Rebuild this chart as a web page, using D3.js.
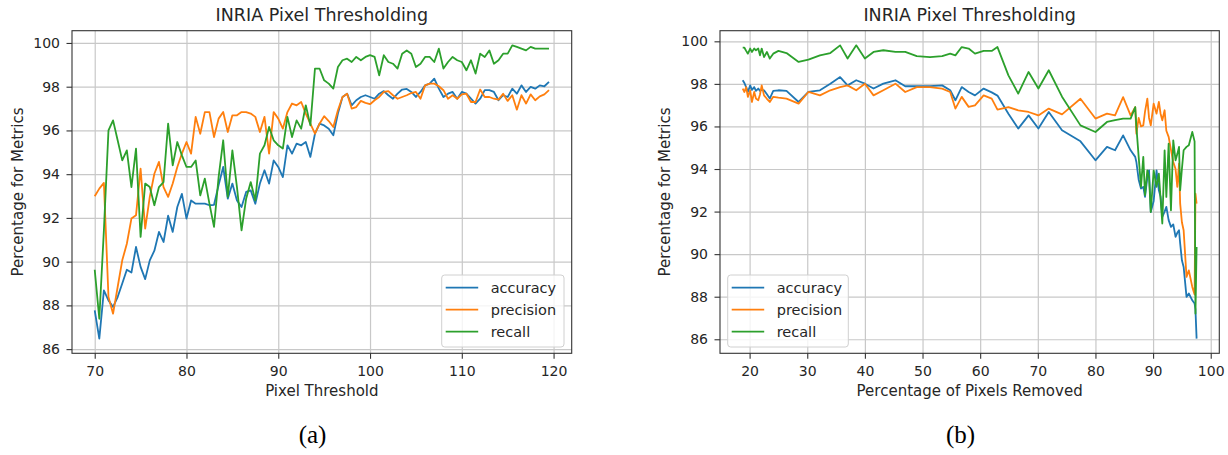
<!DOCTYPE html>
<html>
<head>
<meta charset="utf-8">
<script src="https://cdn.jsdelivr.net/npm/d3@7"></script>
<style>
  body { margin: 0; background: #fff; }
  svg { display: block; }
  text { font-family: "DejaVu Sans", sans-serif; fill: #262626; }
</style>
</head>
<body>
<div id="chart"></div>
<script>
// panel (a): metrics against pixel threshold
var thresholds = [
    70, 70.5, 71, 71.5, 72, 72.5, 73, 73.5, 74, 74.5,
    75, 75.5, 76, 76.5, 77, 77.5, 78, 78.5, 79, 79.5,
    80, 80.5, 81, 81.5, 82, 82.5, 83, 83.5, 84, 84.5,
    85, 85.5, 86, 86.5, 87, 87.5, 88, 88.5, 89, 89.5,
    90, 90.5, 91, 91.5, 92, 92.5, 93, 93.5, 94, 94.5,
    95, 95.5, 96, 96.5, 97, 97.5, 98, 98.5, 99, 99.5,
    100, 100.5, 101, 101.5, 102, 102.5, 103, 103.5, 104, 104.5,
    105, 105.5, 106, 106.5, 107, 107.5, 108, 108.5, 109, 109.5,
    110, 110.5, 111, 111.5, 112, 112.5, 113, 113.5, 114, 114.5,
    115, 115.5, 116, 116.5, 117, 117.5, 118, 118.5, 119, 119.5];

var accuracyA = [
    87.77, 86.48, 88.69, 88.23, 87.93, 88.38, 89.0, 89.63, 89.5, 90.67,
    89.76, 89.2, 90.06, 90.5, 91.36, 90.9, 92.1, 91.36, 92.5, 93.1,
    91.97, 92.8, 92.65, 92.65, 92.65, 92.58, 92.6, 93.5, 94.33, 92.88,
    93.57, 92.8, 92.5, 93.19, 93.26, 92.65, 93.57, 94.18, 93.57, 94.63,
    94.33, 93.87, 95.32, 94.94, 95.4, 95.32, 95.47, 94.79, 95.85, 96.31,
    96.23, 96.08, 95.78, 96.77, 97.53, 97.68, 97.15, 97.38, 97.53, 97.61,
    97.53, 97.45, 97.68, 97.8, 97.61, 97.45, 97.68, 97.87, 97.9, 97.76,
    97.53, 97.76, 98.06, 98.14, 98.37, 97.91, 97.53, 97.68, 97.76, 97.45,
    97.76, 97.68, 97.45, 97.23, 97.45, 97.84, 97.84, 97.76, 97.38, 97.61,
    97.53, 97.91, 97.68, 98.06, 97.76, 97.99, 97.91, 98.06, 98.02, 98.22];

var precisionA = [
    92.99, 93.34, 93.6, 88.38, 87.62, 88.84, 90.06, 90.82, 91.97, 92.12,
    94.25, 91.51, 92.96, 94.02, 94.56, 93.41, 92.96, 93.57, 94.33, 94.94,
    95.47, 94.94, 96.62, 95.85, 96.84, 96.84, 95.7, 96.54, 96.84, 95.93,
    96.69, 96.69, 96.84, 96.84, 96.77, 96.62, 95.93, 96.62, 94.94, 96.84,
    96.54, 96.08, 96.84, 97.23, 97.15, 97.3, 96.77, 96.31, 95.85, 96.31,
    96.65, 96.43, 96.16, 96.92, 97.53, 97.68, 97.0, 97.07, 97.35, 97.26,
    97.2, 97.38, 97.53, 97.76, 97.8, 97.61, 97.45, 97.53, 97.61, 97.71,
    97.76, 97.45, 98.06, 98.14, 98.14, 98.02, 97.84, 97.45, 97.61, 97.45,
    97.65, 97.68, 97.3, 97.3, 97.87, 97.53, 97.53, 97.45, 97.41, 97.68,
    97.35, 97.61, 96.95, 97.61, 97.23, 97.65, 97.38, 97.56, 97.65, 97.84];

var recallA = [
    89.63, 87.39, 91.43, 96.0, 96.46, 95.55, 94.63, 95.09, 93.41, 95.17,
    91.13, 93.57, 93.41, 92.58, 93.41, 93.64, 96.31, 94.4, 95.47, 94.86,
    94.33, 94.33, 94.63, 93.03, 93.8, 92.65, 91.59, 93.87, 95.55, 92.96,
    95.09, 93.41, 91.43, 92.88, 93.64, 92.8, 94.94, 95.32, 96.16, 95.55,
    95.32, 95.17, 96.62, 95.7, 96.46, 96.08, 97.15, 96.23, 98.83, 98.83,
    98.29, 98.14, 97.91, 98.9, 99.21, 99.28, 99.13, 99.36, 99.21, 99.36,
    99.44, 99.36, 98.52, 99.44, 99.13, 99.05, 98.83, 99.51, 99.66, 99.51,
    98.9, 99.05, 99.36, 99.36, 99.13, 99.74, 98.83, 99.13, 99.36, 99.21,
    99.13, 98.75, 99.21, 98.6, 99.51, 99.36, 99.66, 99.05, 99.21, 99.51,
    99.51, 99.89, 99.82, 99.74, 99.66, 99.82, 99.74, 99.74, 99.74, 99.74];

// panel (b): metrics against percentage of pixels removed
var removed = [
    18.8, 19.1, 19.4, 19.7, 20.1, 20.4, 20.8, 21.1, 21.5, 21.8,
    22.1, 22.5, 23.0, 23.5, 24.1, 25.0, 26.4, 28.5, 30.2, 32.2,
    34.0, 35.7, 37.0, 38.5, 40.0, 41.5, 43.2, 45.3, 47.0, 49.0,
    51.3, 53.4, 54.8, 55.7, 56.8, 58.0, 59.1, 60.6, 62.0, 63.0,
    64.9, 66.6, 68.4, 70.1, 71.9, 74.2, 77.4, 80.0, 82.0, 83.4,
    84.8, 86.1, 86.9,
    87.1, 87.5, 87.9, 88.3, 88.6, 89.0, 89.3, 89.6, 90.1, 90.6,
    91.0, 91.3, 91.6, 92.0, 92.3, 92.7, 93.1, 93.5, 93.9, 94.2,
    94.5, 94.7, 95.0, 95.3, 95.8, 96.2, 96.8, 97.2, 97.35, 97.55];

var accuracyB = [
    98.17, 98.04, 97.85, 97.62, 97.93, 97.72, 97.85, 97.67, 97.78, 97.67,
    97.72, 97.7, 97.51, 97.31, 97.67, 97.7, 97.67, 97.15, 97.62, 97.7,
    98.01, 98.32, 97.93, 98.17, 98.01, 97.78, 98.01, 98.17, 97.89, 97.89,
    97.89, 97.93, 97.7, 97.23, 97.85, 97.62, 97.46, 97.78, 97.6, 97.45,
    96.6, 95.9, 96.52, 95.9, 96.68, 95.82, 95.3, 94.41, 95.04, 94.88,
    95.58, 94.88, 94.57,
    94.33, 93.5, 93.08, 93.16, 92.69, 93.6, 93.94, 91.98, 92.5, 93.94,
    93.0, 92.7, 91.75, 92.0, 92.22, 91.6, 91.28, 91.4, 90.81, 91.0,
    91.12, 90.5, 89.71, 89.4, 87.99, 88.15, 87.83, 87.68, 87.4, 86.03];

var precisionB = [
    97.78, 97.62, 97.85, 97.39, 97.7, 97.15, 97.62, 97.31, 97.23, 97.5,
    97.93, 97.46, 97.3, 97.15, 97.39, 97.35, 97.31, 97.07, 97.62, 97.46,
    97.7, 97.85, 97.93, 97.7, 98.01, 97.46, 97.7, 98.01, 97.62, 97.85,
    97.85, 97.78, 97.62, 96.84, 97.39, 96.92, 96.99, 97.46, 97.31, 96.79,
    96.91, 96.76, 96.68, 96.52, 96.84, 96.57, 97.3, 96.37, 96.6, 96.52,
    97.38, 96.52, 96.91,
    95.66, 96.4, 96.0, 96.05, 96.7, 97.31, 96.4, 96.05, 97.07, 96.6,
    97.15, 96.6, 96.29, 96.76, 95.8, 95.51, 94.9, 94.33, 94.0, 93.16,
    94.25, 92.37, 91.5, 91.12, 88.93, 89.24, 88.46, 88.1, 92.84, 92.37];

var recallB = [
    99.70, 99.70, 99.55, 99.42, 99.66, 99.5, 99.66, 99.58, 99.66, 99.34,
    99.66, 99.26, 99.5, 99.19, 99.42, 99.55, 99.45, 99.03, 99.14, 99.34,
    99.45, 99.81, 99.19, 99.81, 99.19, 99.5, 99.58, 99.5, 99.5, 99.3,
    99.26, 99.3, 99.42, 99.34, 99.73, 99.66, 99.42, 99.55, 99.55, 99.73,
    98.4, 97.54, 98.56, 97.78, 98.64, 97.4, 96.05, 95.74, 96.21, 96.3,
    96.37, 96.37, 96.91,
    96.0, 94.57, 93.16, 94.57, 92.77, 93.94, 93.6, 91.98, 93.94, 93.16,
    93.78, 92.6, 91.44, 94.88, 92.69, 95.19, 92.06, 95.35, 94.41, 94.7,
    95.04, 93.0, 94.0, 94.88, 95.04, 95.12, 95.74, 95.3, 87.21, 90.34];

var seriesNames = ["accuracy", "precision", "recall"];
var yTicks = [86, 88, 90, 92, 94, 96, 98, 100];
var xTicksA = [70, 80, 90, 100, 110, 120];
var xTicksB = [20, 30, 40, 50, 60, 70, 80, 90, 100];

function init() {
    var W = 1228, H = 455;
    var color = d3.scaleOrdinal(seriesNames, ["#1f77b4", "#ff7f0e", "#2ca02c"]);

    var svg = d3.select("#chart")
        .append("svg")
        .attr("width", W)
        .attr("height", H);

    // matplotlib style auto limits: 5% padding around the data
    function padded(values) {
        var ext = d3.extent(values);
        var m = (ext[1] - ext[0]) * 0.05;
        return [ext[0] - m, ext[1] + m];
    }

    function drawPanel(p) {
        var w = p.right - p.left;
        var h = p.bottom - p.top;
        var allY = d3.merge(p.series);

        var x = d3.scaleLinear().domain(padded(p.xs)).range([0, w]);
        var y = d3.scaleLinear().domain(padded(allY)).range([h, 0]);

        var g = svg.append("g")
            .attr("transform", "translate(" + p.left + "," + p.top + ")");

        // grid
        g.append("g")
            .attr("class", "grid")
            .attr("transform", "translate(0," + h + ")")
            .call(d3.axisBottom(x).tickValues(p.xTicks).tickSize(-h).tickFormat(""))
            .call(function (s) { s.select(".domain").remove(); });
        g.append("g")
            .attr("class", "grid")
            .call(d3.axisLeft(y).tickValues(yTicks).tickSize(-w).tickFormat(""))
            .call(function (s) { s.select(".domain").remove(); });
        g.selectAll(".grid line")
            .attr("stroke", "#c8c8c8")
            .attr("stroke-width", 1.2);

        // data lines
        var line = d3.line()
            .x(function (d) { return x(d[0]); })
            .y(function (d) { return y(d[1]); });

        p.series.forEach(function (vals, k) {
            var pts = vals.map(function (v, i) { return [p.xs[i], v]; });
            g.append("path")
                .datum(pts)
                .attr("fill", "none")
                .attr("stroke", color(seriesNames[k]))
                .attr("stroke-width", 1.8)
                .attr("stroke-linejoin", "round")
                .attr("d", line);
        });

        // frame
        g.append("rect")
            .attr("width", w)
            .attr("height", h)
            .attr("fill", "none")
            .attr("stroke", "#333")
            .attr("stroke-width", 1.1);

        // axes
        var xa = g.append("g")
            .attr("transform", "translate(0," + h + ")")
            .call(d3.axisBottom(x).tickValues(p.xTicks).tickSize(5.5).tickPadding(7.5));
        var ya = g.append("g")
            .call(d3.axisLeft(y).tickValues(yTicks).tickSize(5.5).tickPadding(6.5));
        [xa, ya].forEach(function (a) {
            a.select(".domain").remove();
            a.selectAll(".tick line").attr("stroke", "#333").attr("stroke-width", 1.1);
            a.selectAll(".tick text")
                .attr("fill", "#262626")
                .style("font-family", "DejaVu Sans")
                .style("font-size", "14px");
        });

        // title and labels
        g.append("text")
            .attr("x", w / 2)
            .attr("y", 20.7 - p.top)
            .attr("text-anchor", "middle")
            .style("font-size", "17.5px")
            .text("INRIA Pixel Thresholding");

        g.append("text")
            .attr("x", w / 2)
            .attr("y", 396.5 - p.top)
            .attr("text-anchor", "middle")
            .style("font-size", "15px")
            .text(p.xLabel);

        g.append("text")
            .attr("transform", "translate(" + (p.yLabelX - p.left) + "," + (h / 2) + ") rotate(-90)")
            .attr("text-anchor", "middle")
            .style("font-size", "15px")
            .text("Percentage for Metrics");

        // legend
        var lg = g.append("g")
            .attr("transform", "translate(" + (p.legendX - p.left) + "," + (275 - p.top) + ")");
        lg.append("rect")
            .attr("width", p.legendW)
            .attr("height", 72)
            .attr("rx", 3)
            .attr("fill", "#fff")
            .attr("fill-opacity", 0.8)
            .attr("stroke", "#d0d0d0")
            .attr("stroke-width", 1);
        seriesNames.forEach(function (name, k) {
            var ry = 12.7 + k * 22;
            lg.append("line")
                .attr("x1", 4).attr("x2", 36.5)
                .attr("y1", ry).attr("y2", ry)
                .attr("stroke", color(name))
                .attr("stroke-width", 1.8);
            lg.append("text")
                .attr("x", 49)
                .attr("y", ry)
                .attr("dy", "0.35em")
                .style("font-size", "14.5px")
                .text(name);
        });

        // caption under the panel
        svg.append("text")
            .attr("x", p.captionX)
            .attr("y", 443)
            .attr("text-anchor", "middle")
            .style("font-family", "Liberation Serif")
            .style("font-size", "25px")
            .style("fill", "#000")
            .text(p.caption);
    }

    drawPanel({
        left: 72, right: 571.7, top: 30.7, bottom: 353.3,
        xs: thresholds,
        series: [accuracyA, precisionA, recallA],
        xTicks: xTicksA,
        xLabel: "Pixel Threshold",
        yLabelX: 23.3,
        legendX: 441.7, legendW: 122.3,
        caption: "(a)", captionX: 312.5
    });

    drawPanel({
        left: 720, right: 1219.3, top: 30.7, bottom: 353.3,
        xs: removed,
        series: [accuracyB, precisionB, recallB],
        xTicks: xTicksB,
        xLabel: "Percentage of Pixels Removed",
        yLabelX: 670,
        legendX: 727.7, legendW: 120.6,
        caption: "(b)", captionX: 960.5
    });
}

window.onload = init;
</script>
</body>
</html>
